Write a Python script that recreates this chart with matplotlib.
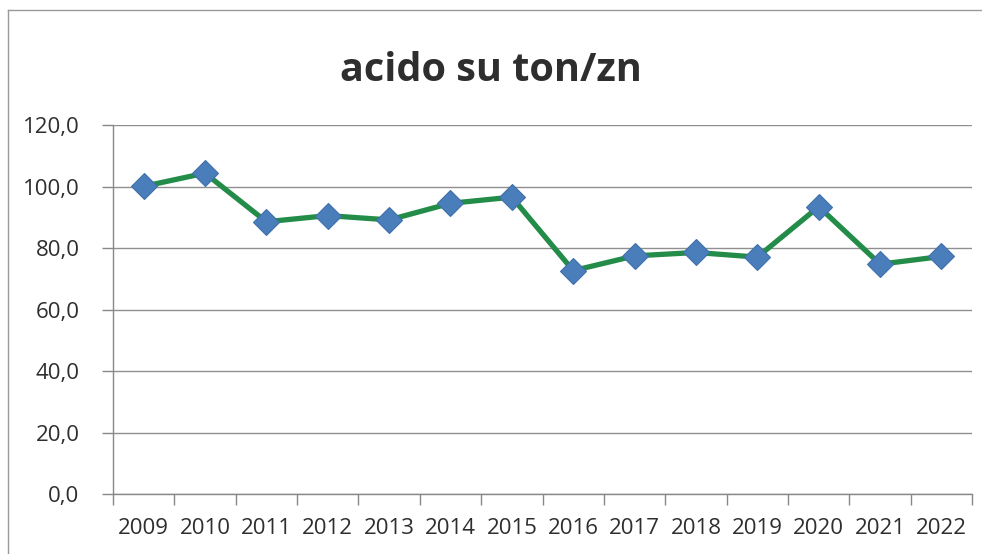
import matplotlib.pyplot as plt
from matplotlib.lines import Line2D
from matplotlib.ticker import FuncFormatter

plt.rcParams['font.family'] = ['Open Sans', 'DejaVu Sans']

# data
years = ['2009', '2010', '2011', '2012', '2013', '2014', '2015',
         '2016', '2017', '2018', '2019', '2020', '2021', '2022']
values = [100.1, 104.4, 88.6, 90.6, 89.2, 94.6, 96.6,
          72.7, 77.5, 78.6, 77.1, 93.5, 74.8, 77.3]
y_ticks = [0, 20, 40, 60, 80, 100, 120]

fig = plt.figure(figsize=(9.82, 5.54), dpi=100)
ax = fig.add_axes([0.115, 0.108, 0.875, 0.666])

x = list(range(len(years)))
ax.plot(x, values, color='#238c48', linewidth=3.8, zorder=3,
        marker='D', markersize=13.5, markerfacecolor='#4a7ebb',
        markeredgecolor='#3f70aa', markeredgewidth=0.8)

ax.set_xlim(-0.5, len(years) - 0.5)
ax.set_ylim(0, 120)
ax.set_yticks(y_ticks)
ax.yaxis.set_major_formatter(FuncFormatter(lambda v, p: f'{v:.1f}'.replace('.', ',')))

# category labels in the middle, tick marks on the boundaries (excel style)
ax.set_xticks(x)
ax.set_xticklabels(years)
ax.set_xticks([i - 0.5 for i in range(len(years) + 1)], minor=True)
ax.tick_params(axis='x', which='major', length=0, pad=17, labelsize=16, labelcolor='#2e2e2e')
ax.tick_params(axis='x', which='minor', length=8, width=1, color='#888888', direction='out')
ax.tick_params(axis='y', length=8, width=1, color='#888888', pad=16, labelsize=16, labelcolor='#2e2e2e')

ax.grid(axis='y', color='#8f8f8f', linewidth=1)
ax.set_axisbelow(True)
for s in ['top', 'right']:
    ax.spines[s].set_visible(False)
for s in ['left', 'bottom']:
    ax.spines[s].set_color('#888888')
    ax.spines[s].set_linewidth(1)

fig.text(0.5, 0.873, 'acido su ton/zn', ha='center', va='center',
         fontsize=28.5, fontweight='bold', color='#2e2e2e')

# outer chart frame (only top and left are visible in the scan)
fig.add_artist(Line2D([8 / 982, 8 / 982], [0, 1 - 10 / 554], transform=fig.transFigure,
                      color='#999999', linewidth=1))
fig.add_artist(Line2D([8 / 982, 1], [1 - 10 / 554, 1 - 10 / 554], transform=fig.transFigure,
                      color='#999999', linewidth=1))

fig.savefig('out.png', dpi=100)
